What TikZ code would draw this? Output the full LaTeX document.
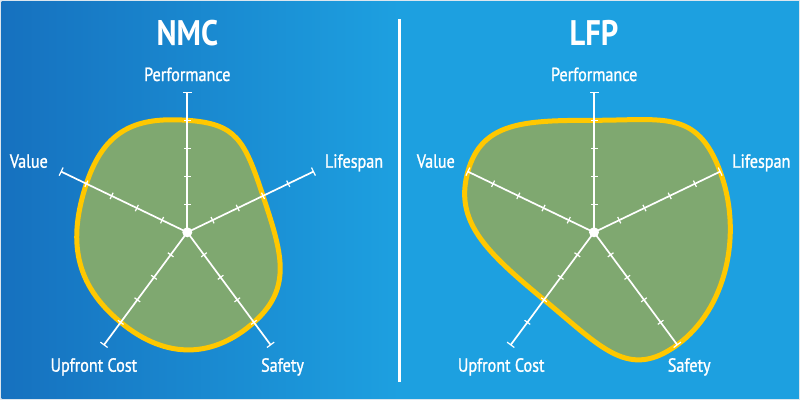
\documentclass[tikz,border=0pt]{standalone}
\usepackage{fontspec}
\setmainfont[FakeStretch=0.86]{PT Sans}
\newfontfamily\lblfont[FakeStretch=0.85, FakeBold=1.2]{PT Sans}
\usepackage{tikz}
\usetikzlibrary{positioning}
\definecolor{bluedark}{HTML}{1671BF}
\definecolor{bluelight}{HTML}{1DA0E0}
\definecolor{blobgreen}{HTML}{7FA870}
\definecolor{blobyellow}{HTML}{FFC800}
\definecolor{frame}{HTML}{DCE6EE}
\tikzset{
  axis/.style = {draw=white, line width=1.7pt},
  tick/.style = {draw=white, line width=1.2pt},
  blob/.style = {fill=blobgreen, draw=blobyellow, line width=5pt, smooth cycle, tension=1},
  lbl/.style = {text=white, font=\lblfont\fontsize{19}{20}\selectfont, anchor=base, inner sep=0pt},
  ttl/.style = {text=white, font=\fontsize{35.5}{36}\selectfont\bfseries, anchor=base, inner sep=0pt}
}

\begin{document}
\begin{tikzpicture}[x=1pt, y=1pt]
	\useasboundingbox (0,0) rectangle (800,400);
	\fill[frame] (0,0) rectangle (800,400);
	\shade[left color=bluedark, right color=bluelight] (1.5,1.5) rectangle (400,398.5);
	\fill[bluelight] (399,1.5) rectangle (798.5,398.5);
	\draw[white, line width=3pt] (399,18) -- (399,381);

	% NMC
	\begin{scope}[shift={(187.3,167.7)}]
		\draw[blob] plot coordinates {(90:112) (25.7:84) (-53.5:112) (-126.5:112) (154.3:112)};
		\foreach \a in {90, 25.7, -53.5, -126.5, 154.3} {
			\draw[axis, rotate=\a] (0,0) -- (140,0);
			\draw[tick, rotate=\a] (140,-4.5) -- (140,4.5);
			\foreach \r in {28, 56, 84, 112}
				\draw[tick, rotate=\a] (\r,-3.5) -- (\r,3.5);
		}
		\fill[white] (0,0) circle (5);
	\end{scope}
	\node[ttl] (nmc) at (187.3,355) {NMC};
	\node[lbl] (nmcperf) at (187.3,319) {Performance};
	\node[lbl] (nmclife) at (354,232.3) {Lifespan};
	\node[lbl] (nmcsafe) at (282.5,28.3) {Safety};
	\node[lbl] (nmccost) at (93.8,28.3) {Upfront Cost};
	\node[lbl] (nmcval) at (28.8,232.3) {Value};

	% LFP
	\begin{scope}[shift={(594,167.7)}]
		\draw[blob] plot coordinates {(90:112) (25.7:140) (-53.5:140) (-126.5:84) (154.3:140)};
		\foreach \a in {90, 25.7, -53.5, -126.5, 154.3} {
			\draw[axis, rotate=\a] (0,0) -- (140,0);
			\draw[tick, rotate=\a] (140,-4.5) -- (140,4.5);
			\foreach \r in {28, 56, 84, 112}
				\draw[tick, rotate=\a] (\r,-3.5) -- (\r,3.5);
		}
		\fill[white] (0,0) circle (5);
	\end{scope}
	\node[ttl] (lfp) at (594,355) {LFP};
	\node[lbl] (lfpperf) at (594.2,319) {Performance};
	\node[lbl] (lfplife) at (761.3,232.3) {Lifespan};
	\node[lbl] (lfpsafe) at (689.2,28.3) {Safety};
	\node[lbl] (lfpcost) at (501.2,28.3) {Upfront Cost};
	\node[lbl] (lfpval) at (435.8,232.3) {Value};
\end{tikzpicture}
\end{document}
